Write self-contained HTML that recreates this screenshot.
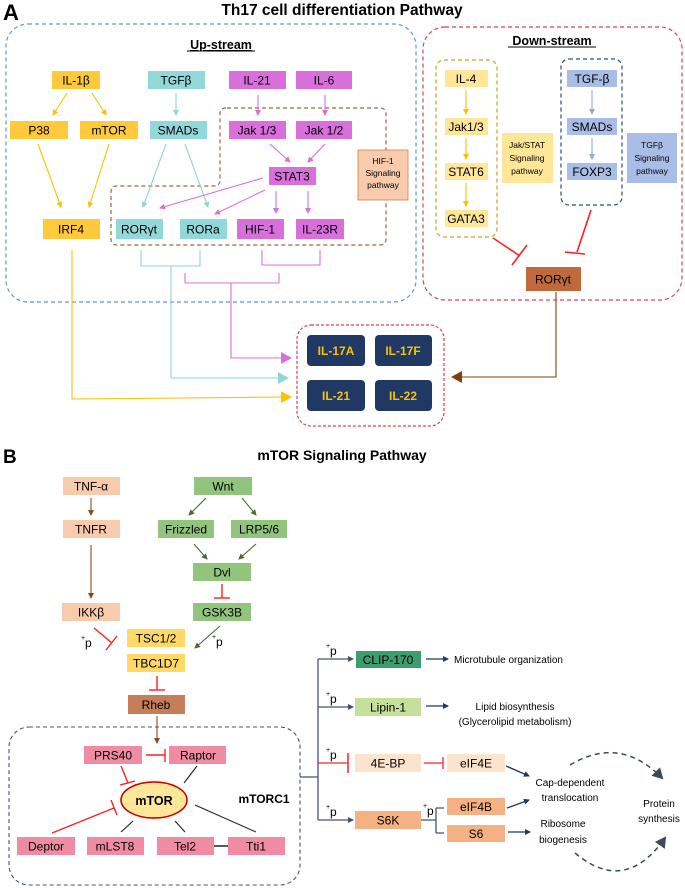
<!DOCTYPE html>
<html><head><meta charset="utf-8"><style>
html,body{margin:0;padding:0;background:#fff}
svg{display:block}
text{font-family:"Liberation Sans",sans-serif}
</style></head><body>
<svg width="685" height="888" viewBox="0 0 685 888" xmlns="http://www.w3.org/2000/svg">
<defs>
<marker id="ay" markerWidth="6" markerHeight="6" refX="5" refY="3" orient="auto" markerUnits="userSpaceOnUse"><path d="M0,0 L6,3 L0,6z" fill="#FFC000"/></marker>
<marker id="at" markerWidth="6" markerHeight="6" refX="5" refY="3" orient="auto" markerUnits="userSpaceOnUse"><path d="M0,0 L6,3 L0,6z" fill="#8ED6D8"/></marker>
<marker id="am" markerWidth="6" markerHeight="6" refX="5" refY="3" orient="auto" markerUnits="userSpaceOnUse"><path d="M0,0 L6,3 L0,6z" fill="#D96FDB"/></marker>
<marker id="aY" markerWidth="12" markerHeight="12" refX="10" refY="6" orient="auto" markerUnits="userSpaceOnUse"><path d="M0,0 L11,6 L0,12z" fill="#FFC000"/></marker>
<marker id="aT" markerWidth="12" markerHeight="12" refX="10" refY="6" orient="auto" markerUnits="userSpaceOnUse"><path d="M0,0 L11,6 L0,12z" fill="#8ED6D8"/></marker>
<marker id="aM" markerWidth="12" markerHeight="12" refX="10" refY="6" orient="auto" markerUnits="userSpaceOnUse"><path d="M0,0 L11,6 L0,12z" fill="#D96FDB"/></marker>
<marker id="aB" markerWidth="12" markerHeight="12" refX="10" refY="6" orient="auto" markerUnits="userSpaceOnUse"><path d="M0,0 L11,6 L0,12z" fill="#843C0C"/></marker>
<marker id="aly" markerWidth="6" markerHeight="6" refX="5" refY="3" orient="auto" markerUnits="userSpaceOnUse"><path d="M0,0 L6,3 L0,6z" fill="#FFC000"/></marker>
<marker id="alb" markerWidth="6" markerHeight="6" refX="5" refY="3" orient="auto" markerUnits="userSpaceOnUse"><path d="M0,0 L6,3 L0,6z" fill="#8FAADC"/></marker>
<marker id="abr" markerWidth="6" markerHeight="6" refX="5" refY="3" orient="auto" markerUnits="userSpaceOnUse"><path d="M0,0 L6,3 L0,6z" fill="#8B4A1E"/></marker>
<marker id="ag" markerWidth="6" markerHeight="6" refX="5" refY="3" orient="auto" markerUnits="userSpaceOnUse"><path d="M0,0 L6,3 L0,6z" fill="#4E6B33"/></marker>
<marker id="an" markerWidth="6" markerHeight="6" refX="5" refY="3" orient="auto" markerUnits="userSpaceOnUse"><path d="M0,0 L6,3 L0,6z" fill="#1F3864"/></marker>
<marker id="as" markerWidth="6" markerHeight="6" refX="5" refY="3" orient="auto" markerUnits="userSpaceOnUse"><path d="M0,0 L6,3 L0,6z" fill="#44546A"/></marker>
<marker id="aD" markerWidth="12" markerHeight="12" refX="9" refY="6" orient="auto" markerUnits="userSpaceOnUse"><path d="M0,0 L11,6 L0,12z" fill="#3B4A5E"/></marker>
<radialGradient id="glow" cx="50%" cy="50%" r="50%"><stop offset="75%" stop-color="#F4B183"/><stop offset="100%" stop-color="#fff" stop-opacity="0"/></radialGradient>
</defs>

<!-- ===== Panel A ===== -->
<text x="3" y="20" font-size="22" font-weight="bold">A</text>
<text x="342" y="15" font-size="15.5" font-weight="bold" text-anchor="middle">Th17 cell differentiation Pathway</text>

<rect x="6" y="24" width="410" height="278" rx="22" fill="none" stroke="#5B9BD5" stroke-width="1.2" stroke-dasharray="4,3"/>
<text x="221" y="49" font-size="12.5" font-weight="bold" text-anchor="middle" text-decoration="underline">Up-stream</text>
<line x1="187" y1="51" x2="255" y2="51" stroke="#000" stroke-width="1"/>

<path d="M226,108 Q220,108 220,114 L220,180 Q220,186 214,186 L117,186 Q111,186 111,192 L111,239 Q111,245 117,245 L380,245 Q386,245 386,239 L386,114 Q386,108 380,108 Z" fill="none" stroke="#A0643C" stroke-width="1.2" stroke-dasharray="4,3"/>

<g font-size="12" text-anchor="middle">
<rect x="52" y="71" width="48" height="18" fill="#FFC93C"/><text x="76" y="84.5">IL-1β</text>
<rect x="148" y="71" width="57" height="18" fill="#92D8DA"/><text x="176" y="84.5">TGFβ</text>
<rect x="229" y="71" width="57" height="18" fill="#D96FDB"/><text x="257" y="84.5">IL-21</text>
<rect x="296" y="71" width="56" height="18" fill="#D96FDB"/><text x="324" y="84.5">IL-6</text>
<rect x="10" y="121" width="58" height="18" fill="#FFC93C"/><text x="39" y="134.5">P38</text>
<rect x="80" y="121" width="58" height="18" fill="#FFC93C"/><text x="109" y="134.5">mTOR</text>
<rect x="150" y="121" width="57" height="18" fill="#92D8DA"/><text x="178" y="134.5">SMADs</text>
<rect x="229" y="121" width="57" height="18" fill="#D96FDB"/><text x="257" y="134.5">Jak 1/3</text>
<rect x="296" y="121" width="56" height="18" fill="#D96FDB"/><text x="324" y="134.5">Jak 1/2</text>
<rect x="269" y="167" width="47" height="18" fill="#D96FDB"/><text x="292" y="180.5">STAT3</text>
<rect x="43" y="219" width="57" height="20" fill="#FFC93C"/><text x="71" y="233.5">IRF4</text>
<rect x="116" y="219" width="47" height="20" fill="#92D8DA"/><text x="139" y="233.5">RORγt</text>
<rect x="180" y="219" width="47" height="20" fill="#92D8DA"/><text x="203" y="233.5">RORa</text>
<rect x="237" y="219" width="47" height="20" fill="#D96FDB"/><text x="260" y="233.5">HIF-1</text>
<rect x="296" y="219" width="48" height="20" fill="#D96FDB"/><text x="320" y="233.5">IL-23R</text>
</g>
<rect x="358" y="150" width="50" height="50" fill="#F8CBAD" stroke="#D08050" stroke-width="0.8"/>
<g font-size="8.5" text-anchor="middle"><text x="383" y="164">HIF-1</text><text x="383" y="176">Signaling</text><text x="383" y="188">pathway</text></g>

<g stroke-width="1.1" fill="none">
<line x1="67" y1="93" x2="53" y2="115" stroke="#FFC000" marker-end="url(#ay)"/>
<line x1="92" y1="93" x2="106" y2="115" stroke="#FFC000" marker-end="url(#ay)"/>
<line x1="38" y1="144" x2="61" y2="207" stroke="#FFC000" marker-end="url(#ay)"/>
<line x1="109" y1="144" x2="89" y2="207" stroke="#FFC000" marker-end="url(#ay)"/>
<line x1="176" y1="93" x2="176" y2="115" stroke="#8ED6D8" marker-end="url(#at)"/>
<line x1="166" y1="144" x2="143" y2="207" stroke="#8ED6D8" marker-end="url(#at)"/>
<line x1="185" y1="144" x2="208" y2="207" stroke="#8ED6D8" marker-end="url(#at)"/>
<line x1="258" y1="95" x2="258" y2="115" stroke="#D96FDB" marker-end="url(#am)"/>
<line x1="325" y1="95" x2="325" y2="115" stroke="#D96FDB" marker-end="url(#am)"/>
<line x1="270" y1="144" x2="290" y2="162" stroke="#D96FDB" marker-end="url(#am)"/>
<line x1="325" y1="144" x2="308" y2="162" stroke="#D96FDB" marker-end="url(#am)"/>
<line x1="263" y1="178" x2="160" y2="208" stroke="#D96FDB" marker-end="url(#am)"/>
<line x1="265" y1="190" x2="215" y2="214" stroke="#D96FDB" marker-end="url(#am)"/>
<line x1="276" y1="191" x2="276" y2="213" stroke="#D96FDB" marker-end="url(#am)"/>
<line x1="308" y1="191" x2="308" y2="213" stroke="#D96FDB" marker-end="url(#am)"/>
<!-- brackets -->
<path d="M141,250 V266 H200 V250" stroke="#8ED6D8"/>
<path d="M171,266 V378 H288" stroke="#8ED6D8" marker-end="url(#aT)"/>
<path d="M262,250 V265 H320 V250" stroke="#D96FDB"/>
<path d="M185,273 V283 H279 V273" stroke="#D96FDB"/>
<path d="M231,283 V358 H291" stroke="#D96FDB" marker-end="url(#aM)"/>
<path d="M72,250 V399 L291,397" stroke="#FFC000" marker-end="url(#aY)"/>
<path d="M556,292 V377 H452" stroke="#843C0C" marker-end="url(#aB)"/>
</g>

<!-- Down-stream -->
<rect x="423" y="27" width="259" height="273" rx="22" fill="none" stroke="#E0404A" stroke-width="1.2" stroke-dasharray="4,3"/>
<text x="552" y="45" font-size="12.5" font-weight="bold" text-anchor="middle">Down-stream</text>
<line x1="508" y1="47" x2="596" y2="47" stroke="#000" stroke-width="1"/>
<rect x="436" y="60" width="61" height="177" rx="8" fill="none" stroke="#C9A227" stroke-width="1.2" stroke-dasharray="4,3"/>
<rect x="561" y="59" width="61" height="146" rx="8" fill="none" stroke="#2F4A7A" stroke-width="1.2" stroke-dasharray="4,3"/>
<g font-size="12" text-anchor="middle">
<rect x="445" y="70" width="43" height="17" fill="#FFE699"/><text x="466" y="83">IL-4</text>
<rect x="445" y="118" width="43" height="17" fill="#FFE699"/><text x="466" y="131">Jak1/3</text>
<rect x="445" y="163" width="43" height="17" fill="#FFE699"/><text x="466" y="176">STAT6</text>
<rect x="445" y="210" width="43" height="17" fill="#FFE699"/><text x="466" y="223">GATA3</text>
<rect x="567" y="70" width="50" height="17" fill="#A9BEE6"/><text x="592" y="83">TGF-β</text>
<rect x="567" y="118" width="50" height="17" fill="#A9BEE6"/><text x="592" y="131">SMADs</text>
<rect x="567" y="163" width="50" height="17" fill="#A9BEE6"/><text x="592" y="176">FOXP3</text>
<rect x="526" y="267" width="55" height="24" fill="#C0693B"/><text x="553" y="283.5">RORγt</text>
</g>
<rect x="502" y="133" width="51" height="50" fill="#FFE699"/>
<rect x="627" y="133" width="50" height="50" fill="#A9BEE6"/>
<g font-size="8.5" text-anchor="middle">
<text x="527" y="148">Jak/STAT</text><text x="527" y="161">Signaling</text><text x="527" y="174">pathway</text>
<text x="652" y="148">TGFβ</text><text x="652" y="161">Signaling</text><text x="652" y="174">pathway</text>
</g>
<g stroke-width="1.1" fill="none">
<line x1="466" y1="90" x2="466" y2="114" stroke="#FFC000" marker-end="url(#aly)"/>
<line x1="466" y1="138" x2="466" y2="159" stroke="#FFC000" marker-end="url(#aly)"/>
<line x1="466" y1="183" x2="466" y2="206" stroke="#FFC000" marker-end="url(#aly)"/>
<line x1="592" y1="90" x2="592" y2="114" stroke="#8FAADC" marker-end="url(#alb)"/>
<line x1="592" y1="138" x2="592" y2="159" stroke="#8FAADC" marker-end="url(#alb)"/>
</g>
<g stroke="#FF2020" stroke-width="1.6" fill="none">
<line x1="493" y1="238" x2="520" y2="256"/><line x1="512" y1="265" x2="527" y2="245"/>
<line x1="591" y1="210" x2="577" y2="252"/><line x1="565" y1="252" x2="585" y2="254"/>
</g>

<!-- Cytokines -->
<rect x="297" y="325" width="147" height="101" rx="14" fill="none" stroke="#E0404A" stroke-width="1.2" stroke-dasharray="3,2"/>
<g font-size="12" font-weight="bold" fill="#FFC000" text-anchor="middle">
<rect x="307" y="335" width="58" height="31" rx="4" fill="#203864"/><text x="336" y="355">IL-17A</text>
<rect x="375" y="335" width="57" height="31" rx="4" fill="#203864"/><text x="403" y="355">IL-17F</text>
<rect x="307" y="380" width="58" height="31" rx="4" fill="#203864"/><text x="336" y="400">IL-21</text>
<rect x="375" y="380" width="57" height="31" rx="4" fill="#203864"/><text x="403" y="400">IL-22</text>
</g>

<!-- ===== Panel B ===== -->
<text x="3" y="463" font-size="19" font-weight="bold">B</text>
<text x="342" y="460" font-size="14" font-weight="bold" text-anchor="middle">mTOR Signaling Pathway</text>

<rect x="9" y="727" width="291" height="158" rx="20" fill="none" stroke="#44546A" stroke-width="1.1" stroke-dasharray="4,3"/>

<g font-size="12" text-anchor="middle">
<rect x="63" y="477" width="57" height="18" fill="#F8CBAD"/><text x="91" y="490.5">TNF-α</text>
<rect x="63" y="520" width="57" height="18" fill="#F8CBAD"/><text x="91" y="533.5">TNFR</text>
<rect x="62" y="603" width="58" height="18" fill="#F8CBAD"/><text x="91" y="616.5">IKKβ</text>
<rect x="194" y="477" width="58" height="18" fill="#93C47D"/><text x="223" y="490.5">Wnt</text>
<rect x="158" y="520" width="56" height="18" fill="#93C47D"/><text x="186" y="533.5">Frizzled</text>
<rect x="231" y="520" width="56" height="18" fill="#93C47D"/><text x="259" y="533.5">LRP5/6</text>
<rect x="193" y="563" width="58" height="18" fill="#93C47D"/><text x="222" y="576.5">Dvl</text>
<rect x="193" y="603" width="58" height="18" fill="#93C47D"/><text x="222" y="616.5">GSK3B</text>
<rect x="127" y="629" width="58" height="18" fill="#FFD966"/><text x="156" y="642.5">TSC1/2</text>
<rect x="127" y="654" width="58" height="18" fill="#FFD966"/><text x="156" y="667.5">TBC1D7</text>
<rect x="128" y="695" width="57" height="19" fill="#C47E5A"/><text x="156" y="709">Rheb</text>
<rect x="84" y="746" width="58" height="18" fill="#EF8BA2"/><text x="113" y="759.5">PRS40</text>
<rect x="169" y="746" width="57" height="18" fill="#EF8BA2"/><text x="198" y="759.5">Raptor</text>
<rect x="17" y="837" width="58" height="18" fill="#EF8BA2"/><text x="46" y="850.5">Deptor</text>
<rect x="87" y="837" width="57" height="18" fill="#EF8BA2"/><text x="115" y="850.5">mLST8</text>
<rect x="157" y="837" width="57" height="18" fill="#EF8BA2"/><text x="185" y="850.5">Tel2</text>
<rect x="228" y="837" width="57" height="18" fill="#EF8BA2"/><text x="256" y="850.5">Tti1</text>
</g>
<ellipse cx="154" cy="800" rx="37" ry="22" fill="url(#glow)"/>
<ellipse cx="154" cy="800" rx="33" ry="18" fill="#FFE699" stroke="#C00000" stroke-width="1.5"/>
<text x="154" y="805" font-size="12.5" font-weight="bold" text-anchor="middle">mTOR</text>
<text x="264" y="803" font-size="12" font-weight="bold" text-anchor="middle">mTORC1</text>

<g stroke-width="1.1" fill="none">
<line x1="91" y1="498" x2="91" y2="515" stroke="#8B4A1E" marker-end="url(#abr)"/>
<line x1="91" y1="545" x2="91" y2="598" stroke="#8B4A1E" marker-end="url(#abr)"/>
<line x1="157" y1="716" x2="157" y2="743" stroke="#8B4A1E" marker-end="url(#abr)"/>
<line x1="206" y1="498" x2="189" y2="515" stroke="#4E6B33" marker-end="url(#ag)"/>
<line x1="242" y1="498" x2="256" y2="515" stroke="#4E6B33" marker-end="url(#ag)"/>
<line x1="194" y1="544" x2="207" y2="559" stroke="#4E6B33" marker-end="url(#ag)"/>
<line x1="256" y1="544" x2="239" y2="559" stroke="#4E6B33" marker-end="url(#ag)"/>
<line x1="220" y1="626" x2="195" y2="648" stroke="#4E6B33" marker-end="url(#ag)"/>
</g>
<g stroke="#FF2020" stroke-width="1.4" fill="none">
<line x1="222" y1="584" x2="222" y2="598"/><line x1="214" y1="598" x2="230" y2="598"/>
<line x1="157" y1="676" x2="157" y2="690"/><line x1="149" y1="690" x2="165" y2="690"/>
<line x1="94" y1="628" x2="112" y2="643"/><line x1="106" y1="650" x2="117" y2="636"/>
<line x1="146" y1="755" x2="165" y2="755"/><line x1="165" y1="749" x2="165" y2="762"/>
<line x1="121" y1="766" x2="128" y2="783"/><line x1="120" y1="785" x2="135" y2="781"/>
<line x1="52" y1="833" x2="114" y2="808"/><line x1="111" y1="800" x2="117" y2="815"/>
</g>
<g stroke="#222" stroke-width="1.1">
<line x1="197" y1="766" x2="184" y2="783"/>
<line x1="121" y1="832" x2="133" y2="821"/>
<line x1="185" y1="832" x2="175" y2="821"/>
<line x1="256" y1="832" x2="195" y2="805"/>
<line x1="214" y1="846" x2="228" y2="846" stroke-width="1.5"/>
</g>
<g font-size="12"><text x="85" y="647">p</text><text x="81" y="640" font-size="7">+</text>
<text x="216" y="646">p</text><text x="212" y="639" font-size="7">+</text></g>

<!-- right side -->
<g stroke-width="1.3" fill="none">
<line x1="300" y1="777" x2="318" y2="777" stroke="#44546A"/>
<line x1="318" y1="659" x2="318" y2="820" stroke="#44546A"/>
<line x1="318" y1="659" x2="353" y2="659" stroke="#44546A" marker-end="url(#as)"/>
<line x1="318" y1="707" x2="353" y2="707" stroke="#44546A" marker-end="url(#as)"/>
<line x1="318" y1="820" x2="353" y2="820" stroke="#44546A" marker-end="url(#as)"/>
<line x1="318" y1="763" x2="348" y2="763" stroke="#FF2020"/><line x1="348" y1="753" x2="348" y2="773" stroke="#FF2020" stroke-width="1.5"/>
<line x1="424" y1="763" x2="443" y2="763" stroke="#FF2020"/><line x1="443" y1="757" x2="443" y2="769" stroke="#FF2020"/>
<path d="M421,820 H436 M436,808 V833 M436,808 H444 M436,833 H444" stroke="#44546A"/>
<line x1="426" y1="659" x2="448" y2="659" stroke="#1F3864" marker-end="url(#an)"/>
<line x1="426" y1="706" x2="448" y2="706" stroke="#1F3864" marker-end="url(#an)"/>
<line x1="506" y1="766" x2="529" y2="776" stroke="#1F3864" marker-end="url(#an)"/>
<line x1="507" y1="808" x2="529" y2="800" stroke="#1F3864" marker-end="url(#an)"/>
<line x1="508" y1="832" x2="530" y2="832" stroke="#1F3864" marker-end="url(#an)"/>
<path d="M570,765 Q620,735 662,778" stroke="#3B4A5E" stroke-width="1.5" stroke-dasharray="5,4" marker-end="url(#aD)"/>
<path d="M575,853 Q625,895 665,838" stroke="#3B4A5E" stroke-width="1.5" stroke-dasharray="5,4" marker-end="url(#aD)"/>
</g>
<g font-size="12">
<text x="330" y="655">p</text><text x="326" y="648" font-size="7">+</text>
<text x="330" y="703">p</text><text x="326" y="696" font-size="7">+</text>
<text x="330" y="759">p</text><text x="326" y="752" font-size="7">+</text>
<text x="330" y="816">p</text><text x="326" y="809" font-size="7">+</text>
<text x="427" y="815">p</text><text x="423" y="808" font-size="7">+</text>
</g>
<g font-size="12" text-anchor="middle">
<rect x="356" y="651" width="65" height="17" fill="#3C9D6E"/><text x="388" y="664">CLIP-170</text>
<rect x="355" y="698" width="66" height="18" fill="#C6DF9A"/><text x="388" y="711.5">Lipin-1</text>
<rect x="355" y="754" width="66" height="18" fill="#FCE4CC"/><text x="388" y="767.5">4E-BP</text>
<rect x="447" y="754" width="58" height="18" fill="#FCE4CC"/><text x="476" y="767.5">eIF4E</text>
<rect x="355" y="811" width="66" height="18" fill="#F4B183"/><text x="388" y="824.5">S6K</text>
<rect x="447" y="798" width="58" height="17" fill="#F4B183"/><text x="476" y="811">eIF4B</text>
<rect x="447" y="825" width="58" height="17" fill="#F4B183"/><text x="476" y="838">S6</text>
</g>
<g font-size="10" text-anchor="middle">
<text x="454" y="663" text-anchor="start">Microtubule organization</text>
<text x="515" y="710">Lipid biosynthesis</text>
<text x="515" y="725">(Glycerolipid metabolism)</text>
<text x="570" y="786">Cap-dependent</text>
<text x="570" y="801">translocation</text>
<text x="563" y="827">Ribosome</text>
<text x="563" y="843">biogenesis</text>
<text x="659" y="807">Protein</text>
<text x="659" y="822">synthesis</text>
</g>
</svg>
</body></html>
